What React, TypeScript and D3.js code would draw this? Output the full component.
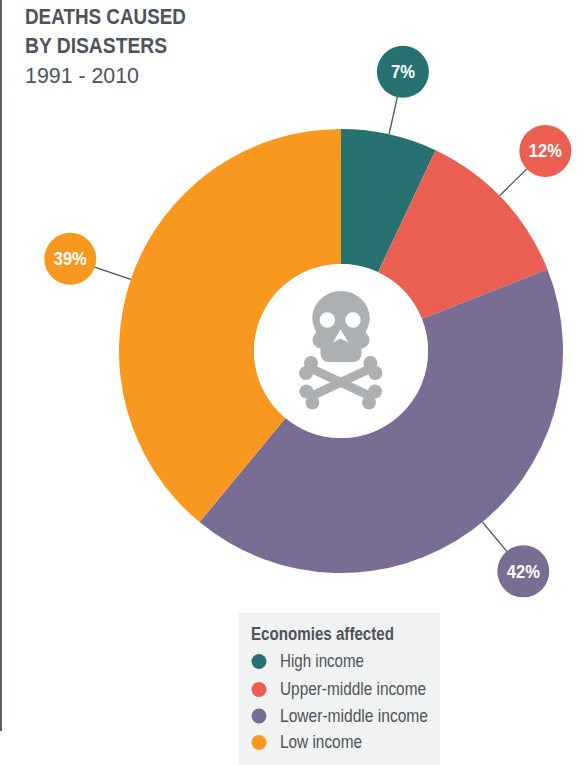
import React from "react";
import * as d3 from "d3";

const categories = ["High income", "Upper-middle income", "Lower-middle income", "Low income"];
const shares = [7, 12, 42, 39];
const colors = ["#277270", "#ea5f51", "#7a6d93", "#f9981f"];
const bubbleAngles = [12.5, 45.6, 140.4, 288.8];
const bubbleTextWidths = [24, 33, 33, 33];
const legendTextWidths = [84, 146, 148, 82];
const legendRows = [661.5, 689.5, 716, 742.5];

const WIDTH = 584;
const HEIGHT = 765;
const CX = 341;
const CY = 351;
const OUTER = 222;
const INNER = 87;
const BUBBLE_DIST = 286;
const BUBBLE_R = 26;
const INK = "#4d535c";
const FONT = "'Liberation Sans', Arial, sans-serif";

const pie = d3.pie<number>().sort(null).value((d) => d);
const arc = d3.arc<d3.PieArcDatum<number>>().innerRadius(INNER).outerRadius(OUTER);
const slices = pie(shares);

const polar = (deg: number, r: number): [number, number] => {
  const a = (deg * Math.PI) / 180;
  return [Math.sin(a) * r, -Math.cos(a) * r];
};

// Crossed bones and skull, drawn in absolute page coordinates.
function Skull() {
  const fill = "#adb0b2";
  const bone = (flip: boolean) => (
    <g transform={flip ? `translate(${2 * 340.7},0) scale(-1,1)` : undefined} fill={fill}>
      <line x1={310} y1={368} x2={372} y2={397} stroke={fill} strokeWidth={9} />
      <circle cx={311} cy={363} r={7} />
      <circle cx={306} cy={373} r={7} />
      <circle cx={369} cy={402.5} r={7} />
      <circle cx={375} cy={391.5} r={7} />
    </g>
  );
  return (
    <g>
      {bone(false)}
      {bone(true)}
      <ellipse cx={341} cy={318} rx={28.7} ry={27} fill={fill} />
      <circle cx={321} cy={340} r={8.5} fill={fill} />
      <circle cx={361} cy={340} r={8.5} fill={fill} />
      <rect x={320.5} y={325} width={41} height={37} rx={8} fill={fill} />
      <rect x={316} y={320} width={50} height={22} fill={fill} />
      <circle cx={327.3} cy={320} r={7.7} fill="#fff" />
      <circle cx={353} cy={320} r={7.7} fill="#fff" />
      <path d="M340.5 329.5 L348.5 342.5 L340.5 338.5 L333 342.5 Z" fill="#fff" />
    </g>
  );
}

export default function App() {
  return (
    <svg
      width={WIDTH}
      height={HEIGHT}
      viewBox={`0 0 ${WIDTH} ${HEIGHT}`}
      style={{ position: "absolute", left: 0, top: 0, background: "#fff" }}
      fontFamily={FONT}
    >
      <rect x={0} y={0} width={2} height={731} fill="#5a5f66" />

      <text x={25} y={24} fontSize={22.5} fontWeight={700} fill={INK} textLength={161} lengthAdjust="spacingAndGlyphs">
        DEATHS CAUSED
      </text>
      <text x={25} y={52.5} fontSize={22.5} fontWeight={700} fill={INK} textLength={142} lengthAdjust="spacingAndGlyphs">
        BY DISASTERS
      </text>
      <text x={25} y={83} fontSize={22.5} fill={INK} textLength={114} lengthAdjust="spacingAndGlyphs">
        1991 - 2010
      </text>

      <g transform={`translate(${CX},${CY})`}>
        {slices.map((s, i) => (
          <path key={categories[i]} d={arc(s) ?? ""} fill={colors[i]} />
        ))}
        {slices.map((s, i) => {
          const [x0, y0] = polar(bubbleAngles[i], OUTER);
          const [x1, y1] = polar(bubbleAngles[i], BUBBLE_DIST);
          return (
            <g key={categories[i]}>
              <line x1={x0} y1={y0} x2={x1} y2={y1} stroke={INK} strokeWidth={1.3} />
              <circle cx={x1} cy={y1} r={BUBBLE_R} fill={colors[i]} />
              <text
                x={x1 - bubbleTextWidths[i] / 2}
                y={y1 + 6.5}
                fontSize={18}
                fontWeight={700}
                fill="#fff"
                textLength={bubbleTextWidths[i]}
                lengthAdjust="spacingAndGlyphs"
              >
                {`${s.data}%`}
              </text>
            </g>
          );
        })}
        <circle r={INNER} fill="#fff" />
      </g>

      <Skull />

      <rect x={238} y={613} width={202} height={152} fill="#f1f3f2" />
      <text x={251} y={640} fontSize={18.5} fontWeight={700} fill={INK} textLength={143} lengthAdjust="spacingAndGlyphs">
        Economies affected
      </text>
      {categories.map((c, i) => (
        <g key={c}>
          <circle cx={259} cy={legendRows[i]} r={7.5} fill={colors[i]} />
          <text
            x={280}
            y={legendRows[i] + 5.5}
            fontSize={18.5}
            fill={INK}
            textLength={legendTextWidths[i]}
            lengthAdjust="spacingAndGlyphs"
          >
            {c}
          </text>
        </g>
      ))}
    </svg>
  );
}
